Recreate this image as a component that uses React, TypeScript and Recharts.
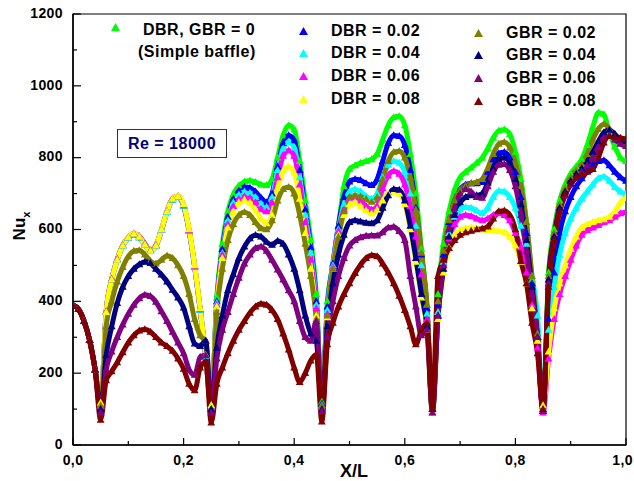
import React from 'react';
import { LineChart, Line, XAxis, YAxis, ReferenceArea } from 'recharts';

// X/L sampling positions (step 0.01)
const xs = Array.from({ length: 101 }, (_, i) => i / 100);

const simpleBaffle = [
  390, 378, 345, 292, 210, 115,
  372, 462, 517, 556, 578, 588, 580, 560, 542, 556, 600, 650, 685, 692, 668, 598, 498, 378, 250, 110,
  410, 560, 650, 698, 722, 733, 736, 732, 725, 723, 740, 800, 862, 890, 878, 790, 680, 570, 420, 120,
  400, 500, 610, 720, 768, 778, 785, 790, 795, 810, 850, 890, 912, 915, 890, 810, 700, 545, 390, 90,
  420, 560, 650, 710, 745, 760, 772, 785, 800, 825, 855, 875, 878, 865, 815, 740, 620, 460, 300, 95,
  480, 600, 680, 725, 755, 775, 795, 835, 885, 925, 920, 870, 830, 800, 790,
];
const dbr002 = [
  390, 378, 345, 292, 210, 112,
  370, 460, 515, 554, 576, 586, 578, 558, 540, 554, 598, 648, 683, 690, 666, 596, 496, 376, 248, 108,
  400, 545, 635, 685, 708, 718, 716, 705, 688, 675, 700, 775, 840, 862, 848, 765, 655, 550, 400, 115,
  385, 505, 610, 690, 733, 740, 737, 728, 723, 740, 790, 840, 862, 860, 835, 765, 660, 530, 380, 95,
  390, 530, 620, 680, 712, 725, 728, 728, 732, 760, 795, 812, 815, 800, 760, 690, 590, 450, 300, 95,
  350, 480, 590, 650, 690, 720, 742, 762, 780, 790, 792, 778, 760, 745, 735,
];
const dbr004 = [
  390, 378, 345, 292, 210, 110,
  370, 460, 515, 554, 576, 586, 578, 558, 540, 554, 598, 648, 683, 690, 666, 596, 496, 376, 248, 106,
  395, 535, 625, 675, 697, 705, 702, 690, 672, 663, 690, 765, 825, 843, 828, 745, 640, 535, 390, 110,
  375, 500, 600, 670, 705, 712, 705, 692, 685, 700, 745, 780, 790, 785, 760, 700, 610, 500, 365, 95,
  370, 510, 590, 635, 655, 662, 660, 652, 645, 660, 690, 707, 705, 690, 660, 610, 560, 470, 360, 100,
  320, 440, 530, 590, 630, 660, 685, 705, 725, 742, 747, 735, 718, 705, 700,
];
const dbr006 = [
  390, 378, 345, 292, 210, 108,
  372, 462, 517, 556, 578, 589, 581, 560, 542, 556, 600, 651, 686, 693, 668, 598, 498, 378, 250, 104,
  390, 530, 615, 665, 685, 692, 688, 675, 657, 650, 675, 745, 805, 820, 805, 725, 620, 515, 380, 105,
  365, 495, 595, 655, 688, 690, 680, 665, 655, 665, 715, 750, 762, 755, 725, 665, 580, 475, 350, 92,
  360, 500, 575, 615, 635, 640, 637, 630, 625, 630, 640, 645, 640, 625, 590, 550, 480, 390, 270, 90,
  240, 350, 420, 470, 515, 555, 585, 598, 605, 612, 620, 625, 635, 645, 648,
];
const dbr008 = [
  390, 378, 345, 292, 210, 118,
  370, 460, 515, 555, 578, 588, 580, 558, 540, 555, 600, 650, 685, 693, 670, 600, 500, 380, 250, 110,
  385, 520, 605, 650, 675, 683, 675, 655, 630, 617, 640, 715, 762, 774, 758, 685, 590, 490, 360, 100,
  355, 490, 585, 640, 670, 675, 665, 652, 645, 655, 680, 700, 705, 700, 670, 600, 510, 410, 320, 95,
  350, 480, 550, 585, 598, 603, 605, 603, 600, 598, 598, 595, 592, 580, 555, 510, 450, 380, 290, 110,
  260, 380, 450, 500, 545, 580, 605, 615, 620, 625, 628, 635, 650, 675, 690,
];
const gbr002 = [
  390, 378, 345, 292, 210, 110,
  330, 400, 455, 495, 525, 540, 542, 530, 512, 505, 515, 527, 520, 500, 470, 420, 350, 305, 290, 100,
  370, 490, 570, 615, 640, 648, 640, 620, 603, 600, 625, 680, 712, 718, 700, 640, 560, 470, 350, 110,
  360, 490, 580, 650, 690, 695, 692, 685, 677, 690, 740, 790, 815, 818, 800, 745, 655, 535, 390, 100,
  400, 540, 625, 680, 710, 722, 728, 732, 740, 770, 810, 838, 843, 828, 785, 720, 620, 470, 310, 100,
  470, 590, 670, 715, 745, 765, 782, 810, 850, 880, 893, 880, 855, 840, 835,
];
const gbr004 = [
  390, 378, 345, 292, 210, 100,
  250, 330, 395, 440, 470, 490, 503, 510, 506, 490, 474, 455, 432, 410, 382, 330, 282, 275, 290, 100,
  270, 360, 430, 475, 520, 552, 575, 584, 580, 565, 557, 568, 560, 530, 490, 430, 360, 310, 290, 100,
  330, 450, 530, 585, 620, 625, 622, 618, 617, 625, 660, 695, 712, 710, 680, 610, 520, 420, 330, 100,
  360, 490, 580, 640, 675, 690, 695, 695, 700, 730, 770, 795, 800, 785, 740, 670, 570, 440, 300, 95,
  460, 580, 660, 705, 735, 755, 770, 790, 815, 845, 870, 877, 865, 850, 845,
];
const gbr006 = [
  390, 378, 345, 292, 210, 90,
  210, 260, 300, 335, 365, 390, 408, 418, 414, 398, 372, 345, 315, 285, 255, 210, 195, 245, 250, 90,
  240, 320, 370, 420, 465, 505, 530, 548, 552, 540, 515, 488, 460, 430, 400, 345, 300, 290, 345, 95,
  300, 400, 470, 520, 555, 570, 578, 582, 583, 583, 592, 605, 607, 595, 570, 470, 385, 305, 320, 90,
  360, 500, 600, 660, 700, 712, 705, 690, 688, 720, 760, 780, 782, 765, 720, 640, 540, 420, 300, 95,
  450, 570, 650, 695, 725, 745, 760, 778, 800, 830, 855, 862, 850, 838, 832,
];
const gbr008 = [
  390, 378, 345, 292, 210, 70,
  180, 205, 230, 258, 285, 305, 318, 322, 315, 300, 285, 275, 262, 240, 212, 170, 152, 215, 232, 62,
  170, 215, 255, 290, 320, 345, 368, 385, 393, 390, 375, 350, 310, 265, 215, 175, 200, 235, 252, 65,
  280, 340, 385, 420, 450, 478, 502, 520, 528, 525, 505, 480, 450, 415, 375, 330, 280, 320, 340, 100,
  470, 515, 548, 570, 585, 592, 596, 600, 602, 608, 630, 650, 652, 640, 600, 512, 450, 340, 255, 100,
  440, 570, 650, 700, 728, 745, 752, 760, 768, 800, 842, 860, 858, 855, 852,
];

const xTicks = [0, 0.1, 0.2, 0.3, 0.4, 0.5, 0.6, 0.7, 0.8, 0.9, 1.0];
const yTicks = [0, 100, 200, 300, 400, 500, 600, 700, 800, 900, 1000, 1100, 1200];

const series = [
  { key: 'sb', label: 'DBR, GBR = 0', color: '#00ff00', values: simpleBaffle },
  { key: 'd2', label: 'DBR = 0.02', color: '#0000ff', values: dbr002 },
  { key: 'd4', label: 'DBR = 0.04', color: '#00ffff', values: dbr004 },
  { key: 'd6', label: 'DBR = 0.06', color: '#ff00ff', values: dbr006 },
  { key: 'd8', label: 'DBR = 0.08', color: '#ffff00', values: dbr008 },
  { key: 'g2', label: 'GBR = 0.02', color: '#808000', values: gbr002 },
  { key: 'g4', label: 'GBR = 0.04', color: '#000080', values: gbr004 },
  { key: 'g6', label: 'GBR = 0.06', color: '#800080', values: gbr006 },
  { key: 'g8', label: 'GBR = 0.08', color: '#800000', values: gbr008 },
];

const data = xs.map((x, i) => {
  const row: Record<string, number> = { x };
  series.forEach(s => { row[s.key] = s.values[i]; });
  return row;
});

const FONT = '"Liberation Sans", Arial, sans-serif';

const XTick = (props: any) => {
  const { x, y, payload } = props;
  const major = Math.round(payload.value * 10) % 2 === 0;
  const last = payload.value >= 1;
  return (
    <g>
      <line x1={x} x2={x} y1={y} y2={y - (major ? 7 : 4)} stroke="#000" strokeWidth={1.2} />
      {major && (
        <text x={last ? x + 7 : x} y={y + 16} textAnchor={last ? 'end' : 'middle'} dominantBaseline="middle"
          fontFamily={FONT} fontWeight="bold" fontSize={14} letterSpacing={0.4} fill="#000">
          {payload.value.toFixed(1).replace('.', ',')}
        </text>
      )}
    </g>
  );
};

const YTick = (props: any) => {
  const { x, y, payload } = props;
  const major = payload.value % 200 === 0;
  return (
    <g>
      <line x1={x} x2={x + (major ? 8 : 4)} y1={y} y2={y} stroke="#000" strokeWidth={1.2} />
      {major && (
        <text x={x - 10} y={y} textAnchor="end" dominantBaseline="middle"
          fontFamily={FONT} fontWeight="bold" fontSize={14} letterSpacing={0.4} fill="#000">
          {payload.value}
        </text>
      )}
    </g>
  );
};

const triangleDot = (color: string) => (props: any) => {
  const { cx, cy, index } = props;
  if (cx == null || cy == null) return <g key={index} />;
  return (
    <path key={index} d={`M${cx},${cy - 4.2} L${cx + 3.9},${cy + 2.8} L${cx - 3.9},${cy + 2.8} Z`} fill={color} />
  );
};

const Tri = ({ color }: { color: string }) => (
  <svg width={9} height={8} style={{ display: 'block' }}>
    <path d="M4.5,0 L9,8 L0,8 Z" fill={color} />
  </svg>
);

const textStyle: React.CSSProperties = {
  position: 'absolute', fontFamily: FONT, fontWeight: 'bold', fontSize: 16,
  letterSpacing: 0.5, lineHeight: '20px', whiteSpace: 'nowrap', color: '#000',
};

function LegendItem({ color, label, tx, ty, lx, ly }: { color: string; label: string; tx: number; ty: number; lx: number; ly: number }) {
  return (
    <>
      <div style={{ position: 'absolute', left: tx - 4.5, top: ty - 4 }}><Tri color={color} /></div>
      <div style={{ ...textStyle, left: lx, top: ly - 10 }}>{label}</div>
    </>
  );
}

export default function App() {
  const rowsY = [31, 53, 76, 99];
  return (
    <div style={{ position: 'absolute', left: 0, top: 0, width: 634, height: 481, background: '#fff' }}>
      <LineChart width={634} height={481} data={data} margin={{ top: 14, right: 8, bottom: 0, left: 0 }}>
        <XAxis dataKey="x" type="number" domain={[0, 1]} ticks={xTicks} interval={0}
          tick={<XTick />} tickLine={false} tickSize={0} tickMargin={0} height={36}
          axisLine={{ stroke: '#000', strokeWidth: 1.5 }} allowDataOverflow />
        <YAxis type="number" domain={[0, 1200]} ticks={yTicks} interval={0}
          tick={<YTick />} tickLine={false} tickSize={0} tickMargin={0} width={73}
          axisLine={{ stroke: '#000', strokeWidth: 1.5 }} allowDataOverflow />
        <ReferenceArea x1={0} x2={1} y1={0} y2={1200} fill="none" stroke="#000" strokeWidth={1.2} />
        {series.map(s => (
          <Line key={s.key} dataKey={s.key} type="monotone" stroke={s.color} strokeWidth={5}
            dot={triangleDot(s.color)} activeDot={false} isAnimationActive={false} />
        ))}
      </LineChart>

      {/* legend */}
      <LegendItem color={series[0].color} label="DBR, GBR = 0" tx={115} ty={27} lx={143} ly={30} />
      <div style={{ ...textStyle, left: 138, top: 52 - 10 }}>(Simple baffle)</div>
      {series.slice(1, 5).map((s, i) => (
        <LegendItem key={s.key} color={s.color} label={s.label} tx={303} ty={rowsY[i]} lx={331} ly={rowsY[i]} />
      ))}
      {series.slice(5).map((s, i) => (
        <LegendItem key={s.key} color={s.color} label={s.label} tx={478} ty={rowsY[i] + 1.5} lx={506} ly={rowsY[i] + 1.5} />
      ))}

      {/* Reynolds number box */}
      <div style={{ position: 'absolute', left: 117, top: 129, width: 110, height: 29, border: '1px solid #333',
        boxSizing: 'border-box', display: 'flex', alignItems: 'center', justifyContent: 'center',
        fontFamily: FONT, fontWeight: 'bold', fontSize: 16, letterSpacing: 0.5, color: '#000080', background: '#fff' }}>
        Re = 18000
      </div>

      {/* axis titles */}
      <div style={{ position: 'absolute', left: 21, top: 226, transform: 'translate(-50%, -50%) rotate(-90deg)',
        fontFamily: FONT, fontWeight: 'bold', fontSize: 17, whiteSpace: 'nowrap' }}>
        Nu<sub style={{ fontSize: 11 }}>x</sub>
      </div>
      <div style={{ position: 'absolute', left: 354, top: 471, transform: 'translate(-50%, -50%)',
        fontFamily: FONT, fontWeight: 'bold', fontSize: 18, whiteSpace: 'nowrap' }}>
        X/L
      </div>
    </div>
  );
}
